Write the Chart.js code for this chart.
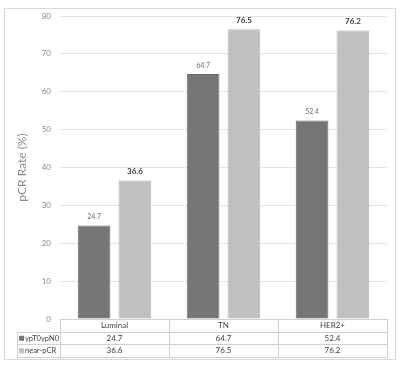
<!DOCTYPE html>
<html>
<head>
<meta charset="utf-8">
<script src="https://cdn.jsdelivr.net/npm/chart.js@4"></script>
<style>
  html, body { margin: 0; padding: 0; background: #fff; }
  #wrap { width: 400px; height: 366px; }
</style>
</head>
<body>
<div id="wrap"><canvas id="chart" width="400" height="366"></canvas></div>
<script>
// Data
const categories = ["Luminal", "TN", "HER2+"];
const seriesNames = ["ypT0ypN0", "near-pCR"];
const ypT0ypN0 = [24.7, 64.7, 52.4];
const nearPCR = [36.6, 76.5, 76.2];
const yTicks = [0, 10, 20, 30, 40, 50, 60, 70, 80];

const colors = ["#767676", "#c0c0c0"];
const fontFamily = "Lato, 'Liberation Sans', sans-serif";

// value labels above each bar
const barLabels = {
  id: "barLabels",
  afterDatasetsDraw(chart) {
    const ctx = chart.ctx;
    ctx.save();
    ctx.textAlign = "center";
    ctx.textBaseline = "bottom";
    chart.data.datasets.forEach((ds, di) => {
      const meta = chart.getDatasetMeta(di);
      meta.data.forEach((bar, i) => {
        if (di === 0) {
          ctx.font = "7px " + fontFamily;
          ctx.fillStyle = "#707070";
        } else {
          ctx.font = "bold 8px " + fontFamily;
          ctx.fillStyle = "#404040";
        }
        ctx.fillText(ds.data[i].toFixed(1), bar.x, bar.y - 5);
      });
    });
    ctx.restore();
  }
};

// data table under the plot + outer frame
const dataTable = {
  id: "dataTable",
  afterDraw(chart) {
    const ctx = chart.ctx;
    const area = chart.chartArea;
    const x = chart.scales.x;
    const half = (x.getPixelForValue(1) - x.getPixelForValue(0)) / 2;
    const top = area.bottom;
    const rowH = 12.5;
    const legendLeft = 17;
    const edges = categories.map((c, i) => x.getPixelForValue(i) - half);
    edges.push(x.getPixelForValue(categories.length - 1) + half);

    ctx.save();
    ctx.strokeStyle = "#d0d0d0";
    ctx.lineWidth = 1;
    ctx.beginPath();
    // horizontal lines
    ctx.moveTo(edges[0], top + 0.5);
    ctx.lineTo(edges[edges.length - 1], top + 0.5);
    for (let r = 1; r <= 3; r++) {
      const y = Math.round(top + r * rowH) + 0.5;
      ctx.moveTo(legendLeft, y);
      ctx.lineTo(edges[edges.length - 1], y);
    }
    // vertical lines
    edges.forEach(e => {
      ctx.moveTo(Math.round(e) + 0.5, top);
      ctx.lineTo(Math.round(e) + 0.5, Math.round(top + 3 * rowH) + 0.5);
    });
    ctx.moveTo(legendLeft + 0.5, Math.round(top + rowH));
    ctx.lineTo(legendLeft + 0.5, Math.round(top + 3 * rowH) + 0.5);
    ctx.stroke();

    ctx.font = "8px " + fontFamily;
    ctx.fillStyle = "#404040";
    ctx.textBaseline = "middle";
    ctx.textAlign = "center";
    categories.forEach((c, i) => {
      ctx.fillText(c, x.getPixelForValue(i), top + rowH / 2 + 0.5);
    });
    const rows = [ypT0ypN0, nearPCR];
    rows.forEach((vals, r) => {
      const yc = top + (r + 1) * rowH + rowH / 2 + 0.5;
      ctx.font = "8px " + fontFamily;
      ctx.textAlign = "center";
      ctx.fillStyle = "#404040";
      vals.forEach((v, i) => ctx.fillText(v.toFixed(1), x.getPixelForValue(i), yc));
      ctx.fillStyle = colors[r];
      ctx.fillRect(legendLeft + 2, yc - 2.5, 5, 5);
      ctx.fillStyle = "#404040";
      ctx.textAlign = "left";
      ctx.font = "7.5px " + fontFamily;
      ctx.fillText(seriesNames[r], legendLeft + 8, yc);
    });

    // outer frame
    ctx.strokeStyle = "#d9d9d9";
    ctx.strokeRect(4.5, 8.5, 391, 351);
    ctx.restore();
  }
};

new Chart(document.getElementById("chart"), {
  type: "bar",
  data: {
    labels: categories,
    datasets: [
      { label: seriesNames[0], data: ypT0ypN0, backgroundColor: colors[0], borderColor: "#6a6a6a", borderWidth: 1 },
      { label: seriesNames[1], data: nearPCR, backgroundColor: colors[1], borderColor: "#b4b4b4", borderWidth: 1 }
    ]
  },
  options: {
    responsive: false,
    animation: false,
    categoryPercentage: 0.75,
    barPercentage: 0.8,
    layout: { padding: { top: 16, right: 13, bottom: 47, left: 0 } },
    plugins: {
      legend: { display: false },
      tooltip: { enabled: false }
    },
    scales: {
      x: { display: false },
      y: {
        min: 0,
        max: 80,
        afterFit(scale) { scale.width = 60; },
        afterBuildTicks(scale) { scale.ticks = yTicks.map(v => ({ value: v })); },
        border: { display: false },
        grid: { color: "#e4e4e4", drawTicks: false },
        ticks: {
          padding: 9,
          color: "#8a8a8a",
          font: { family: fontFamily, size: 8 }
        },
        title: {
          display: true,
          text: "pCR Rate (%)",
          color: "#8a8a8a",
          font: { family: fontFamily, size: 12 },
          padding: { top: 15, bottom: 0 }
        }
      }
    }
  },
  plugins: [barLabels, dataTable]
});
</script>
</body>
</html>
